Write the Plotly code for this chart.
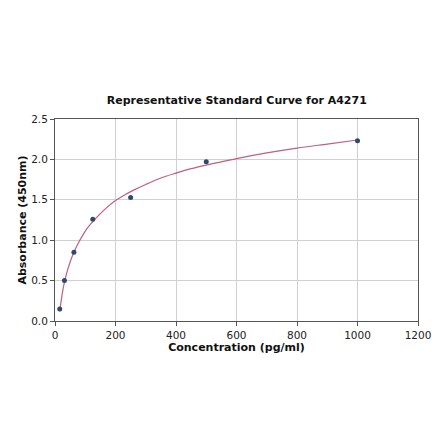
import plotly.graph_objects as go

# Standard points
conc = [15.6, 31.25, 62.5, 125, 250, 500, 1000]
absorb = [0.15, 0.50, 0.85, 1.26, 1.53, 1.97, 2.23]

# Fitted curve
curve_x = [15.6, 20, 25, 31.25, 40, 50, 62.5, 75, 90, 105, 125, 145, 170, 200, 230, 260, 300, 350, 400, 450, 500, 550, 600, 700, 800, 900, 1000]
curve_y = [0.12, 0.24, 0.36, 0.48, 0.61, 0.73, 0.85, 0.95, 1.05, 1.14, 1.23, 1.31, 1.40, 1.49, 1.56, 1.62, 1.69, 1.77, 1.83, 1.885, 1.93, 1.97, 2.01, 2.08, 2.14, 2.19, 2.24]

x_ticks = [0, 200, 400, 600, 800, 1000, 1200]
y_ticks = [0.0, 0.5, 1.0, 1.5, 2.0, 2.5]
y_tick_text = ["0.0", "0.5", "1.0", "1.5", "2.0", "2.5"]

fig = go.Figure()
fig.add_trace(go.Scatter(x=curve_x, y=curve_y, mode="lines", line=dict(color="#c0607e", width=1.2, shape="spline", smoothing=0.8),
                         hoverinfo="skip", showlegend=False))
fig.add_trace(go.Scatter(x=conc, y=absorb, mode="markers", marker=dict(color="#2d4a6e", size=5),
                         showlegend=False))

axis_common = dict(showline=True, linecolor="#555555", linewidth=1, mirror=True, ticks="outside",
                   ticklen=4, tickcolor="#555555", showgrid=True, gridcolor="#d0d0d0", gridwidth=1,
                   zeroline=False, automargin=False,
                   tickfont=dict(family="DejaVu Sans", size=10.5, color="#222222"))

fig.update_layout(
    width=440, height=441,
    paper_bgcolor="white", plot_bgcolor="white",
    margin=dict(l=47, r=30, t=111, b=128),
    title=dict(text="<b>Representative Standard Curve for A4271</b>", x=0.52, xanchor="center",
               y=1 - 92 / 441, yanchor="middle", font=dict(family="DejaVu Sans", size=11, color="#111111")),
    xaxis=dict(range=[0, 1200], tickvals=x_ticks, **axis_common,
               title=dict(text="<b>Concentration (pg/ml)</b>", font=dict(family="DejaVu Sans", size=11, color="#111111"), standoff=2)),
    yaxis=dict(range=[0, 2.5], tickvals=y_ticks, ticktext=y_tick_text, **axis_common,
               title=dict(text="<b>Absorbance (450nm)</b>", font=dict(family="DejaVu Sans", size=11, color="#111111"), standoff=2)),
)

fig.write_html("out.html")
